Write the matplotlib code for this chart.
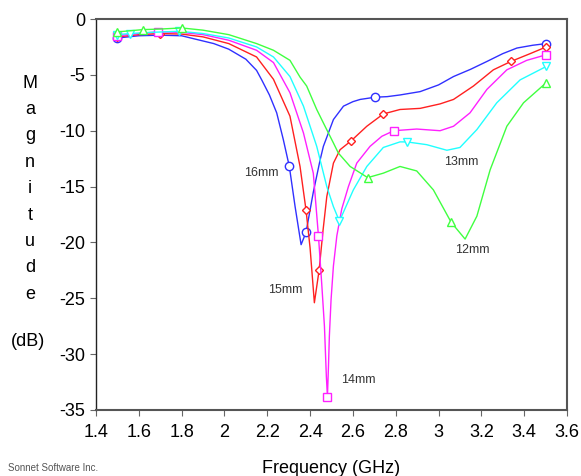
import matplotlib

matplotlib.use("Agg")

import matplotlib.pyplot as plt  # noqa: E402

plt.rcParams["font.family"] = ["Liberation Sans", "DejaVu Sans"]
plt.rcParams["axes.unicode_minus"] = False

# 16mm
F16 = [1.50, 1.60, 1.70, 1.80, 1.853, 1.95, 2.02, 2.10, 2.15, 2.174, 2.21, 2.244, 2.275,
       2.303, 2.330, 2.358, 2.381, 2.415, 2.447, 2.462, 2.509, 2.556, 2.60, 2.634, 2.704,
       2.76, 2.82, 2.914, 3.00, 3.07, 3.15, 3.226, 3.30, 3.366, 3.44, 3.503]
M16 = [-1.7, -1.5, -1.45, -1.5, -1.75, -2.2, -2.7, -3.6, -4.6, -5.45, -6.8, -8.4, -10.8,
       -13.2, -16.8, -20.2, -19.1, -15.5, -12.6, -11.4, -9.0, -7.8, -7.4, -7.2, -7.0,
       -6.95, -6.8, -6.5, -5.9, -5.15, -4.5, -3.8, -3.1, -2.6, -2.35, -2.2]
MK16 = [0, 13, 16, 24, 35]

# 15mm
F15 = [1.50, 1.60, 1.70, 1.80, 1.90, 2.02, 2.15, 2.229, 2.306, 2.353, 2.381, 2.40, 2.42,
       2.442, 2.46, 2.478, 2.509, 2.54, 2.592, 2.665, 2.742, 2.82, 2.914, 3.007, 3.07,
       3.163, 3.256, 3.338, 3.428, 3.503]
M15 = [-1.6, -1.4, -1.3, -1.35, -1.6, -2.2, -3.4, -5.4, -8.7, -13.2, -17.1, -20.5, -25.4,
       -22.5, -19.0, -15.9, -12.9, -11.7, -10.9, -9.6, -8.5, -8.1, -8.0, -7.6, -7.2,
       -6.0, -4.55, -3.8, -3.1, -2.5]
MK15 = [0, 2, 10, 13, 18, 20, 27, 29]

# 14mm
F14 = [1.50, 1.60, 1.688, 1.80, 1.90, 2.02, 2.15, 2.229, 2.306, 2.369, 2.415, 2.439,
       2.454, 2.467, 2.476, 2.481, 2.486, 2.49, 2.498, 2.509, 2.525, 2.548, 2.579, 2.618,
       2.68, 2.735, 2.791, 2.898, 3.007, 3.07, 3.147, 3.226, 3.319, 3.412, 3.503]
M14 = [-1.5, -1.3, -1.15, -1.2, -1.4, -1.9, -2.8, -3.9, -6.6, -10.2, -13.8, -19.4,
       -23.6, -27.5, -32.0, -33.8, -31.0, -28.4, -25.1, -22.1, -19.4, -17.0, -15.0, -12.9,
       -11.4, -10.5, -10.0, -9.85, -10.0, -9.6, -8.4, -6.3, -4.55, -3.7, -3.2]
MK14 = [0, 2, 11, 15, 26, 34]

# 13mm
F13 = [1.497, 1.56, 1.65, 1.79, 1.90, 2.02, 2.15, 2.229, 2.306, 2.369, 2.431, 2.478,
       2.509, 2.537, 2.602, 2.665, 2.742, 2.82, 2.852, 2.945, 3.039, 3.10, 3.179, 3.272,
       3.381, 3.503]
M13 = [-1.4, -1.3, -1.2, -1.1, -1.3, -1.7, -2.5, -3.4, -5.15, -7.8, -11.4, -15.0,
       -16.8, -18.1, -15.3, -13.2, -11.5, -11.0, -11.0, -11.25, -11.75, -11.5, -9.9, -7.5,
       -5.45, -4.25]
MK13 = [0, 1, 3, 13, 18, 25]

# 12mm
F12 = [1.497, 1.618, 1.70, 1.80, 1.90, 2.02, 2.15, 2.229, 2.306, 2.353, 2.384, 2.431,
       2.462, 2.509, 2.532, 2.587, 2.669, 2.742, 2.82, 2.898, 2.976, 3.059, 3.124, 3.179,
       3.241, 3.319, 3.397, 3.503]
M12 = [-1.16, -0.95, -0.9, -0.8, -1.0, -1.4, -2.2, -2.8, -3.7, -5.2, -6.0, -8.1,
       -9.3, -11.1, -12.0, -13.2, -14.2, -13.8, -13.2, -13.6, -15.3, -18.2, -19.7, -17.65,
       -13.5, -9.6, -7.5, -5.7]
MK12 = [0, 1, 3, 16, 21, 27]

SERIES = [
    ("16mm", F16, M16, MK16, "#3030ff", "o", (2.174, -13.8)),
    ("15mm", F15, M15, MK15, "#ff2020", "D", (2.283, -24.3)),
    ("14mm", F14, M14, MK14, "#ff20ff", "s", (2.626, -32.3)),
    ("13mm", F13, M13, MK13, "#20ffff", "v", (3.108, -12.8)),
    ("12mm", F12, M12, MK12, "#40ff40", "^", (3.16, -20.7)),
]

X_TICKS = [1.4, 1.6, 1.8, 2.0, 2.2, 2.4, 2.6, 2.8, 3.0, 3.2, 3.4, 3.6]
X_LABELS = ["1.4", "1.6", "1.8", "2", "2.2", "2.4", "2.6", "2.8", "3", "3.2", "3.4", "3.6"]
Y_TICKS = [0, -5, -10, -15, -20, -25, -30, -35]

fig = plt.figure(figsize=(5.81, 4.76), dpi=100)
ax = fig.add_axes([96 / 581, 1 - 410 / 476, 471 / 581, 391 / 476])

for name, f, m, mk, color, marker, (lx, ly) in SERIES:
    msize = 4.5 if marker == "D" else 6
    ax.plot(f, m, color=color, linewidth=1.0, marker=marker, markevery=mk,
            markersize=msize, markerfacecolor="white", markeredgecolor=color,
            markeredgewidth=1.0)
    ax.text(lx, ly, name, fontsize=9, color="#333333", ha="center", va="center")

ax.set_xlim(1.4, 3.6)
ax.set_ylim(-35, 0)
ax.set_xticks(X_TICKS)
ax.set_xticklabels(X_LABELS)
ax.set_yticks(Y_TICKS)
ax.tick_params(labelsize=13, length=4, direction="out", color="#666666")
ax.tick_params(axis="x", pad=6)
for side in ["top", "right", "bottom"]:
    ax.spines[side].set_color("#555555")
    ax.spines[side].set_linewidth(1.5)
ax.spines["left"].set_color("#222222")
ax.spines["left"].set_linewidth(1.0)

ax.set_xlabel("Frequency (GHz)", fontsize=13, labelpad=14)

for i, ch in enumerate("Magnitude"):
    fig.text(30 / 581, 1 - (83 + i * 26.4) / 476, ch, fontsize=13,
             ha="center", va="center")
fig.text(28 / 581, 1 - 342 / 476, "(dB)", fontsize=13, ha="center", va="center")
fig.text(8 / 581, 1 - 468 / 476, "Sonnet Software Inc.", fontsize=7,
         color="#555555", ha="left", va="center")

fig.savefig("out.png", dpi=100)
